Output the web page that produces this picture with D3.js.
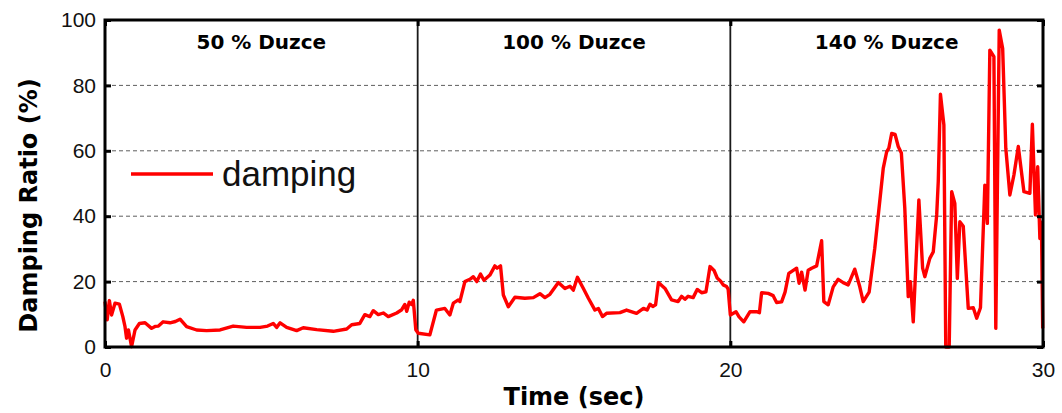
<!DOCTYPE html>
<html>
<head>
<meta charset="utf-8">
<script src="https://cdn.jsdelivr.net/npm/d3@7"></script>
<style>
  html, body { margin: 0; padding: 0; background: #fff; }
  svg { display: block; }
</style>
</head>
<body>
<svg id="chart" width="1062" height="413"></svg>
<script>
// Time of each sample (s) and the identified damping ratio (%)
const timeSec = [
  0, 0.07, 0.14, 0.21, 0.32, 0.46, 0.57, 0.64, 0.69, 0.75, 0.85, 0.96, 1.1, 1.28, 1.49, 1.6, 1.71, 1.86, 2.08, 2.25,
  2.4, 2.61, 2.93, 3.25, 3.68, 4.1, 4.53, 4.96, 5.2, 5.38, 5.49, 5.6, 5.81, 6.13, 6.34, 6.77, 7.3, 7.73, 7.89, 8.15,
  8.31, 8.47, 8.58, 8.74, 8.9, 9.06, 9.33, 9.49, 9.59, 9.65, 9.73, 9.81, 9.86, 9.94, 10.02,
  10.39, 10.6, 10.87, 11.03, 11.14, 11.3, 11.35, 11.51, 11.67, 11.78, 11.89, 12.01, 12.12, 12.31, 12.47, 12.54, 12.65,
  12.74, 12.9, 13.11, 13.43, 13.7, 13.91, 14.07, 14.23, 14.5, 14.71, 14.87, 14.98, 15.11, 15.3, 15.46, 15.67, 15.78,
  15.91, 16.04, 16.47, 16.68, 17.0, 17.22, 17.34, 17.43, 17.52, 17.61, 17.7, 17.91, 18.12, 18.33, 18.44, 18.55, 18.65,
  18.81, 18.94, 19.08, 19.22, 19.35, 19.48, 19.58, 19.7, 19.77, 19.88, 19.93, 20.0,
  20.18, 20.28, 20.43, 20.63, 20.84, 20.93, 21.0, 21.21, 21.37, 21.48, 21.64, 21.75, 21.87, 22.12, 22.2, 22.28, 22.39,
  22.49, 22.6, 22.76, 22.92, 22.99, 23.13, 23.29, 23.45, 23.61, 23.77, 23.98, 24.14, 24.25, 24.44, 24.62, 24.89, 25.0,
  25.07, 25.16, 25.27, 25.37, 25.47, 25.58, 25.69, 25.76, 25.85, 26.03, 26.15, 26.22, 26.38, 26.49, 26.6, 26.65, 26.72,
  26.83, 26.89, 27.0, 27.08, 27.18, 27.26, 27.34, 27.45, 27.61, 27.77, 27.88, 28.0, 28.14, 28.22, 28.3, 28.43, 28.49,
  28.6, 28.71, 28.81, 28.94, 29.07, 29.21, 29.39, 29.58, 29.66, 29.76, 29.83, 29.9, 29.95, 29.99
];
const dampingPct = [
  13.9, 8.3, 14.2, 9.8, 13.4, 13.1, 9.3, 6.2, 2.7, 5.2, 0.1, 5.2, 7.2, 7.4, 5.7, 6.3, 6.4, 7.7, 7.4, 7.8,
  8.5, 6.2, 5.2, 5.0, 5.2, 6.4, 6.0, 6.0, 6.4, 7.2, 6.0, 7.4, 6.0, 5.0, 5.9, 5.3, 4.8, 5.5, 6.8, 7.2,
  9.9, 9.3, 11.1, 9.9, 10.4, 9.3, 10.4, 11.4, 13.0, 10.9, 13.7, 13.0, 14.3, 5.3, 4.2,
  3.7, 11.3, 11.8, 9.8, 13.4, 14.4, 13.9, 20.0, 20.7, 21.5, 20.0, 22.3, 20.4, 22.0, 24.8, 24.1, 24.8,
  15.9, 12.3, 15.2, 14.9, 15.1, 16.3, 15.1, 16.1, 19.7, 17.9, 18.6, 17.4, 21.3, 17.9, 14.9, 11.3, 11.8,
  9.3, 10.3, 10.5, 11.3, 10.3, 11.8, 11.3, 13.1, 12.4, 12.9, 19.7, 17.9, 14.4, 13.9, 15.5, 14.6, 15.5,
  15.1, 17.6, 16.6, 16.9, 24.6, 23.4, 21.1, 20.0, 19.0, 18.5, 17.7, 9.8,
  10.8, 9.2, 7.7, 10.8, 10.8, 10.5, 16.6, 16.4, 15.7, 13.6, 13.8, 16.8, 22.5, 24.1, 19.5, 22.9, 17.4,
  23.5, 24.1, 24.8, 32.5, 13.9, 12.9, 18.4, 20.7, 19.7, 19.0, 23.8, 18.4, 13.9, 16.8, 30.2, 54.6, 59.7,
  60.8, 65.3, 65.0, 61.3, 59.3, 42.4, 15.4, 20.0, 7.7, 45.0, 24.1, 21.5, 27.1, 29.1, 40.4, 50.6, 77.3,
  67.9, 0, 0, 47.5, 43.9, 21.0, 38.3, 36.9, 11.8, 12.0, 8.8, 12.0, 49.5, 37.8, 90.8, 88.8, 5.7,
  96.9, 91.3, 60.8, 46.5, 52.6, 61.3, 47.5, 47.0, 68.1, 40.4, 55.1, 33.2, 38.2, 5.7
];

// Ground-motion stages and where each one ends (s)
const stageLabels = ["50 % Duzce", "100 % Duzce", "140 % Duzce"];
const stageBounds = [0, 10, 20, 30];

const xTicks = [0, 10, 20, 30];
const yTicks = [0, 20, 40, 60, 80, 100];
const seriesName = "damping";

const svg = d3.select("#chart");
const W = 1062, H = 413;
const margin = { top: 20, right: 19, bottom: 66, left: 105 };
const iw = W - margin.left - margin.right;
const ih = H - margin.top - margin.bottom;

const x = d3.scaleLinear().domain([0, 30]).range([0, iw]);
const y = d3.scaleLinear().domain([0, 100]).range([ih, 0]);

const g = svg.append("g").attr("transform", `translate(${margin.left},${margin.top})`);

// dashed horizontal grid
g.append("g")
  .selectAll("line")
  .data(yTicks.filter(d => d > 0 && d < 100))
  .join("line")
  .attr("x1", 0).attr("x2", iw)
  .attr("y1", d => y(d)).attr("y2", d => y(d))
  .attr("stroke", "#5e5e5e")
  .attr("stroke-width", 1)
  .attr("stroke-dasharray", "4,3");

// stage separators
g.append("g")
  .selectAll("line")
  .data(stageBounds.slice(1, -1))
  .join("line")
  .attr("x1", d => x(d)).attr("x2", d => x(d))
  .attr("y1", 0).attr("y2", ih)
  .attr("stroke", "#1a1a1a")
  .attr("stroke-width", 1.8);

// damping series
const data = timeSec.map((t, i) => ({ t, v: dampingPct[i] }));
const line = d3.line().x(d => x(d.t)).y(d => y(d.v));
g.append("path")
  .datum(data)
  .attr("fill", "none")
  .attr("stroke", "#ff0000")
  .attr("stroke-width", 3.4)
  .attr("stroke-linejoin", "round")
  .attr("d", line);

// axes
const tickFont = "'Liberation Sans', Arial, sans-serif";
const xAxis = g.append("g")
  .attr("transform", `translate(0,${ih})`)
  .call(d3.axisBottom(x).tickValues(xTicks).tickSize(-6).tickPadding(15).tickFormat(d3.format("d")));
const yAxis = g.append("g")
  .call(d3.axisLeft(y).tickValues(yTicks).tickSize(-6).tickPadding(9).tickFormat(d3.format("d")));
const yAxisR = g.append("g")
  .attr("transform", `translate(${iw},0)`)
  .call(d3.axisRight(y).tickValues(yTicks).tickSize(-6).tickFormat(""));
const xAxisT = g.append("g")
  .call(d3.axisTop(x).tickValues(xTicks).tickSize(-6).tickFormat(""));

[xAxis, yAxis, yAxisR, xAxisT].forEach(a => {
  a.select(".domain").remove();
  a.selectAll(".tick line").attr("stroke", "#000").attr("stroke-width", 3);
  a.selectAll("text")
    .attr("font-family", tickFont)
    .attr("font-size", 21)
    .attr("fill", "#111");
});
xAxis.selectAll("text").attr("dy", "0.71em");

// frame
g.append("rect")
  .attr("x", 0).attr("y", 0)
  .attr("width", iw).attr("height", ih)
  .attr("fill", "none")
  .attr("stroke", "#000")
  .attr("stroke-width", 3);

// stage titles
const boldFont = "'DejaVu Sans', Verdana, sans-serif";
g.append("g")
  .selectAll("text")
  .data(stageLabels)
  .join("text")
  .attr("x", (d, i) => x((stageBounds[i] + stageBounds[i + 1]) / 2))
  .attr("y", 29)
  .attr("text-anchor", "middle")
  .attr("font-family", boldFont)
  .attr("font-weight", "bold")
  .attr("font-size", 20)
  .attr("fill", "#000")
  .text(d => d);

// legend
const legend = g.append("g").attr("transform", "translate(26,154)");
legend.append("line")
  .attr("x1", 0).attr("x2", 82)
  .attr("y1", 0).attr("y2", 0)
  .attr("stroke", "#ff0000")
  .attr("stroke-width", 3.4);
legend.append("text")
  .attr("x", 91).attr("y", 12)
  .attr("font-family", tickFont)
  .attr("font-size", 35)
  .attr("fill", "#111")
  .text(seriesName);

// axis titles
svg.append("text")
  .attr("x", margin.left + iw / 2)
  .attr("y", 405)
  .attr("text-anchor", "middle")
  .attr("font-family", boldFont)
  .attr("font-weight", "bold")
  .attr("font-size", 24)
  .attr("fill", "#000")
  .text("Time (sec)");

svg.append("text")
  .attr("transform", `translate(37,${margin.top + ih / 2 + 22}) rotate(-90)`)
  .attr("text-anchor", "middle")
  .attr("font-family", boldFont)
  .attr("font-weight", "bold")
  .attr("font-size", 24)
  .attr("fill", "#000")
  .text("Damping Ratio (%)");
</script>
</body>
</html>
